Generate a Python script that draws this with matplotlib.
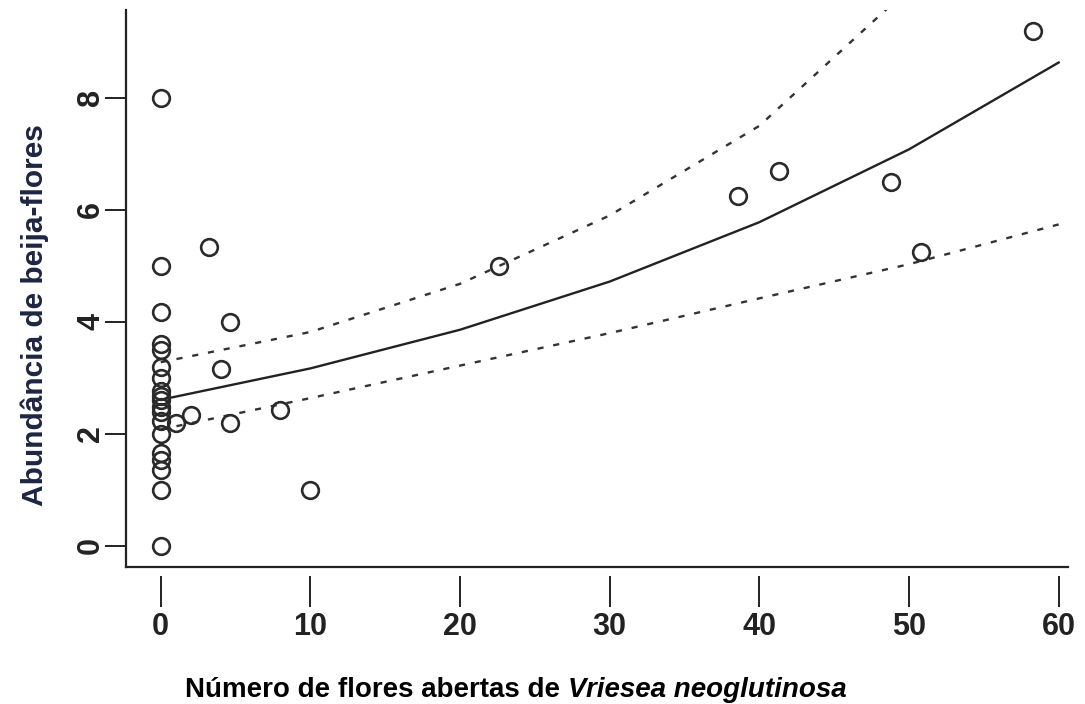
import matplotlib.pyplot as plt

# observed points
flores = [0, 0, 0, 0, 0, 0, 0, 0, 0, 0, 0, 0, 0, 0, 0, 0, 0, 0, 0,
          1, 2, 3.2, 4, 4.6, 4.6, 8, 10, 22.6, 38.6, 41.3, 48.8, 50.8, 58.3]
beija = [8, 5, 4.17, 3.6, 3.5, 3.2, 3.0, 2.77, 2.68, 2.6, 2.48, 2.39, 2.24, 2.0, 1.66, 1.53, 1.35, 1.0, 0,
         2.2, 2.33, 5.33, 3.16, 4.0, 2.2, 2.43, 1.0, 5.0, 6.25, 6.7, 6.5, 5.25, 9.2]

# fitted curve and confidence band
x_fit = [0, 10, 20, 30, 40, 50, 60]
y_fit = [2.61, 3.17, 3.86, 4.72, 5.78, 7.08, 8.63]
y_sup = [3.28, 3.82, 4.68, 5.9, 7.5, 9.95, 13.0]
y_inf = [2.08, 2.64, 3.22, 3.8, 4.42, 5.03, 5.74]

plt.rcParams["font.family"] = ["Liberation Sans", "DejaVu Sans"]

fig = plt.figure(figsize=(10.85, 7.04), dpi=100)
ax = fig.add_axes([0.116, 0.195, 0.868, 0.791])

ax.plot(flores, beija, "o", ms=12, mfc="none", mec="#2a2a2a", mew=1.9, zorder=3)
ax.plot(x_fit, y_fit, "-", color="#222222", lw=1.7)
ax.plot(x_fit, y_sup, color="#333333", lw=1.7, dashes=(2.6, 4.2))
ax.plot(x_fit, y_inf, color="#333333", lw=1.7, dashes=(2.6, 4.2))

ax.set_xlim(-2.33, 60.6)
ax.set_ylim(-0.37, 9.57)

ax.spines["top"].set_visible(False)
ax.spines["right"].set_visible(False)
ax.spines["left"].set_linewidth(1.6)
ax.spines["left"].set_color("#222222")
# x ticks hang a little below the frame line, R style
ax.spines["bottom"].set_position(("outward", 6.5))
ax.spines["bottom"].set_visible(False)
ax.plot([0, 1], [0, 0], transform=ax.transAxes, color="#222222", lw=1.6, clip_on=False)

ax.set_xticks([0, 10, 20, 30, 40, 50, 60])
ax.set_yticks([0, 2, 4, 6, 8])
ax.tick_params(axis="x", length=22, width=1.4, pad=4, labelsize=22, colors="#222222")
ax.tick_params(axis="y", length=15, width=1.4, pad=10, labelsize=22, colors="#222222")
for lab in ax.get_xticklabels():
    lab.set_fontweight("bold")
for lab in ax.get_yticklabels():
    lab.set_fontweight("bold")
    lab.set_rotation(90)
    lab.set_ha("center")
    lab.set_va("center")

fig.text(0.032, 0.553, "Abundância de beija-flores", rotation=90, ha="center", va="center",
         fontsize=21.5, fontweight="bold", color="#1c2541")

t1 = fig.text(185 / 1085, 0.02, "Número de flores abertas de ", ha="left", va="center",
              fontsize=20, fontweight="bold")
fig.canvas.draw()
bb = t1.get_window_extent()
fig.text(bb.x1 / fig.bbox.width, 0.02, "Vriesea neoglutinosa", ha="left", va="center",
         fontsize=20, fontweight="bold", fontstyle="italic")

plt.savefig("out.png", dpi=100)
plt.close()
